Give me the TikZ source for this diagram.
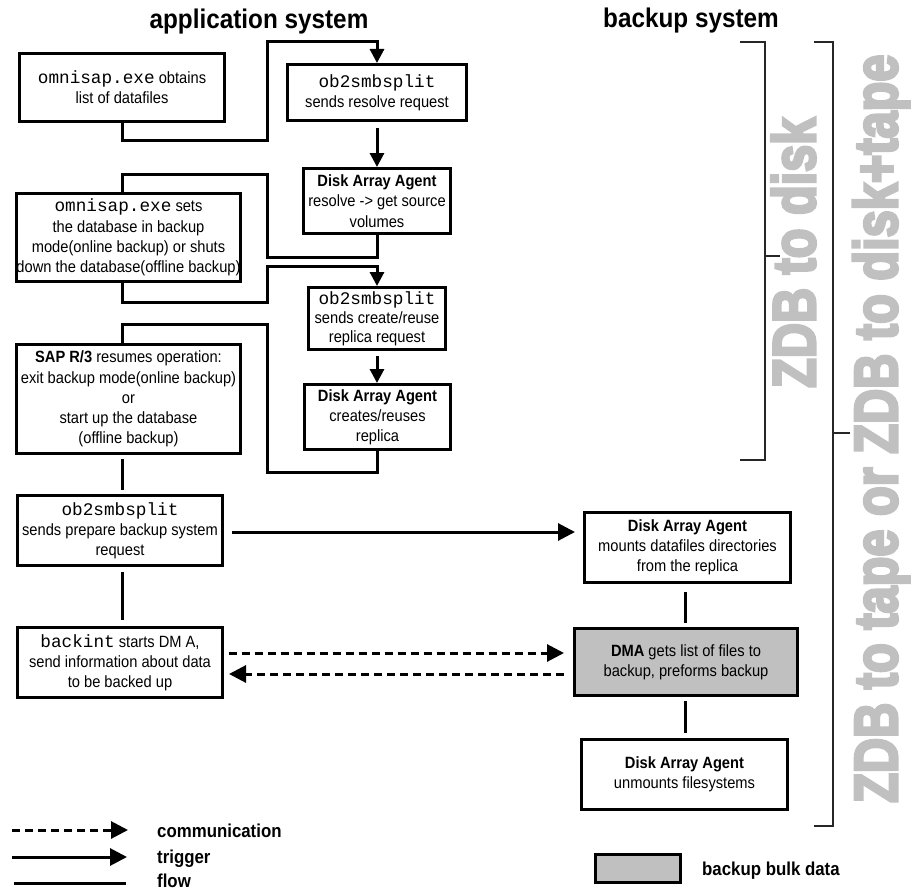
\documentclass[tikz,border=0pt]{standalone}
\usepackage{fontspec}
\setmainfont[FakeStretch=0.9]{Liberation Sans}
\newfontfamily\monof{Liberation Mono}
\newfontfamily\zdbfont[BoldFeatures={FakeBold=5}]{Liberation Sans}
\usetikzlibrary{arrows.meta}
\definecolor{zgray}{RGB}{192,192,192}
\definecolor{boxgray}{RGB}{192,192,192}
\newcommand\mono[1]{{\fontsize{17.7}{20.2}\monof #1}}
\begin{document}
\begin{tikzpicture}[x=1pt,y=-1pt,
  box/.style={draw, line width=3pt, align=center, inner sep=0pt, font=\fontsize{16.3}{20.2}\selectfont},
  trig/.style={line width=3pt, -{Triangle[length=14pt,width=14pt]}},
  trigh/.style={line width=3pt, -{Triangle[length=17pt,width=17pt]}},
  flow/.style={line width=3pt},
  comm/.style={line width=3pt, dash pattern=on 8pt off 5pt, -{Triangle[length=17pt,width=17pt]}},
  brk/.style={line width=1.3pt, draw=black!85},
  ttl/.style={font=\fontsize{27}{32}\selectfont\bfseries, inner sep=0pt, anchor=base},
  leg/.style={font=\fontsize{18.7}{22}\selectfont\bfseries, inner sep=0pt, anchor=base west},
  zdb/.style={rotate=90, anchor=base west, inner sep=0pt, text=zgray, font=\zdbfont\bfseries}
]
\useasboundingbox (0,0) rectangle (911,891);

\coordinate (ax) at (122,0);
\coordinate (bx) at (377,0);
\coordinate (cx) at (685,0);

% titles
\node[ttl] (t1) at (259,29) {application system};
\node[ttl] (t2) at (691,28) {backup system};

% application column
\node[box, minimum width=205pt, minimum height=68pt] (A1) at (122,87.5) {\mono{omnisap.exe} obtains\\list of datafiles};
\node[box, minimum width=224pt, minimum height=88pt] (A2) at (128.5,237.5) {\mono{omnisap.exe} sets\\the database in backup\\mode(online backup) or shuts\\down the database(offline backup)};
\node[box, minimum width=224pt, minimum height=109pt] (A3) at (128.5,399) {\textbf{SAP R/3} resumes operation:\\exit backup mode(online backup)\\or\\start up the database\\(offline backup)};
\node[box, minimum width=205pt, minimum height=70pt] (A4) at (120,530.5) {\mono{ob2smbsplit}\\sends prepare backup system\\request};
\node[box, minimum width=205pt, minimum height=70pt] (A5) at (120,662.5) {\mono{backint} starts DM A,\\send information about data\\to be backed up};

% middle column
\node[box, minimum width=179pt, minimum height=56pt] (B1) at (377,92.5) {\mono{ob2smbsplit}\\sends resolve request};
\node[box, minimum width=147pt, minimum height=65pt] (B2) at (377,201) {\textbf{Disk Array Agent}\\resolve -> get source\\volumes};
\node[box, minimum width=137pt, minimum height=62pt, font=\fontsize{16.3}{19.2}\selectfont] (B3) at (377,318.5) {\mono{ob2smbsplit}\\sends create/reuse\\replica request};
\node[box, minimum width=146pt, minimum height=65pt] (B4) at (377.5,417) {\textbf{Disk Array Agent}\\creates/reuses\\replica};

% backup column
\node[box, minimum width=206pt, minimum height=70pt] (C1) at (687.5,547.5) {\textbf{Disk Array Agent}\\mounts datafiles directories\\from the replica};
\node[box, fill=boxgray, minimum width=223pt, minimum height=67pt] (C2) at (686,662) {\textbf{DMA} gets list of files to\\backup, preforms backup};
\node[box, minimum width=206pt, minimum height=70pt] (C3) at (684.5,774.5) {\textbf{Disk Array Agent}\\unmounts filesystems};

% connectors
\draw[trig] (A1.south) |- (267,140) |- (377,42) -- (bx |- B1.north);
\draw[trig, shorten <=6pt] (bx |- B1.south) -- (bx |- B2.north);
\draw[flow] (bx |- B2.south) |- (267,257) |- (122,174) -- (ax |- A2.north);
\draw[trig] (ax |- A2.south) |- (267,302) |- (377,266) -- (bx |- B3.north);
\draw[trig, shorten <=5pt] (bx |- B3.south) -- (bx |- B4.north);
\draw[flow] (bx |- B4.south) |- (267,472) |- (122,324) -- (ax |- A3.north);
\draw[flow, shorten <=4pt, shorten >=4pt] (ax |- A3.south) -- (ax |- A4.north);
\draw[trigh, shorten <=8pt, shorten >=8pt] ([yshift=-1.5pt]A4.east) -- ([yshift=-1.5pt]A4.east -| C1.west);
\draw[flow, shorten <=5pt, shorten >=6pt] (ax |- A4.south) -- (ax |- A5.north);
\draw[comm, shorten <=4.5pt, shorten >=9pt] ([yshift=9.5pt]A5.east) -- ([yshift=9.5pt]A5.east -| C2.west);
\draw[comm, shorten <=9pt, shorten >=5pt] ([yshift=-11.5pt]A5.east -| C2.west) -- ([yshift=-11.5pt]A5.east);
\draw[flow, shorten <=8pt, shorten >=4pt] (cx |- C1.south) -- (cx |- C2.north);
\draw[flow, shorten <=4pt, shorten >=5pt] (cx |- C2.south) -- (cx |- C3.north);

% brackets
\draw[brk] (740,42) -| (765,460) -- (740,460);
\draw[brk] (765,256) -- (780,256);
\draw[brk] (814,42) -| (833,826) -- (814,826);
\draw[brk] (833,433) -- (850,433);

% gray labels
\node[zdb] (z1) at (815,388) {\resizebox{270pt}{43.5pt}{ZDB to disk}};
\node[zdb] (z2) at (897,803) {\resizebox{748pt}{44pt}{ZDB to tape or ZDB to disk+tape}};

% legend
\coordinate (l1a) at (12,830); \coordinate (l1b) at (128,830);
\coordinate (l2a) at (12,857); \coordinate (l2b) at (127,857);
\coordinate (l3a) at (14,883); \coordinate (l3b) at (126,883);
\draw[comm] (l1a) -- (l1b);
\draw[trigh] (l2a) -- (l2b);
\draw[flow] (l3a) -- (l3b);
\node[leg] (lc) at (157,837) {communication};
\node[leg] (lt) at (157,863) {trigger};
\node[leg] (lf) at (157,887.5) {flow};
\node[draw, line width=3pt, fill=boxgray, minimum width=85pt, minimum height=28pt, inner sep=0pt] (lg) at (638,868.5) {};
\node[leg] (lb) at (702,875) {backup bulk data};
\end{tikzpicture}
\end{document}
